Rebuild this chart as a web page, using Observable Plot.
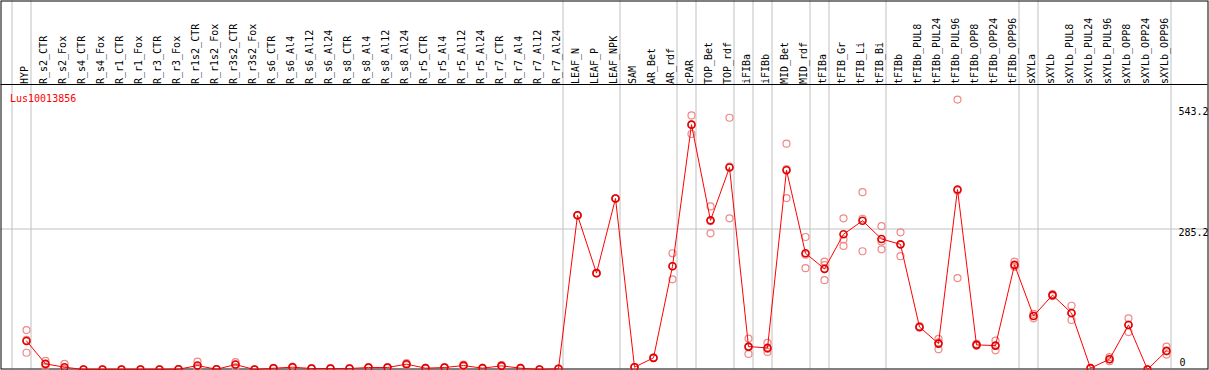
<!DOCTYPE html>
<html><head><meta charset="utf-8">
<script src="https://cdn.jsdelivr.net/npm/d3@7"></script>
<script src="https://cdn.jsdelivr.net/npm/@observablehq/plot@0.6"></script>
<style>body{margin:0;background:#fff} svg{display:block}</style>
</head><body><div id="chart"></div>
<script>
const geneName = "Lus10013856";
const categories = ["HYP","R_s2_CTR","R_s2_Fox","R_s4_CTR","R_s4_Fox","R_r1_CTR","R_r1_Fox","R_r3_CTR","R_r3_Fox","R_r1s2_CTR","R_r1s2_Fox","R_r3s2_CTR","R_r3s2_Fox","R_s6_CTR","R_s6_Al4","R_s6_Al12","R_s6_Al24","R_s8_CTR","R_s8_Al4","R_s8_Al12","R_s8_Al24","R_r5_CTR","R_r5_Al4","R_r5_Al12","R_r5_Al24","R_r7_CTR","R_r7_Al4","R_r7_Al12","R_r7_Al24","LEAF_N","LEAF_P","LEAF_NPK","SAM","AR_Bet","AR_rdf","cPAR","TOP_Bet","TOP_rdf","iFIBa","iFIBb","MID_Bet","MID_rdf","tFIBa","tFIB_Gr","tFIB_Li","tFIB_Bi","tFIBb","tFIBb_PUL8","tFIBb_PUL24","tFIBb_PUL96","tFIBb_OPP8","tFIBb_OPP24","tFIBb_OPP96","sXYLa","sXYLb","sXYLb_PUL8","sXYLb_PUL24","sXYLb_PUL96","sXYLb_OPP8","sXYLb_OPP24","sXYLb_OPP96"];
const means = [58,11.5,4.7,0,0,0,0,0,0.5,8,0.5,10,0,2.6,4.7,2,2,2,4,4,10.8,2.7,4,8,2.7,7.4,2.7,0,1.4,313,195.6,347,4.7,23.6,209.7,497,302.8,410,46.5,43.8,404.5,236,204.3,274.4,302,265,254,86.3,52.6,365.4,50,48.5,212.4,108.6,151,114.6,2.7,20.9,90.4,0,37.8];
const rep1 = [80,17.6,11.5,0,0,0,0,0,1,16,1,15,0,3.5,6,3,3,3,5,5,13,3.5,5,10,3.5,9,3.5,0,2,313,195.6,347,4.7,23.6,236,515.8,331,511,62.7,54,458.5,269,219,306.8,360,291,278.5,88,62,548,52,58.6,219,113,153,129.4,3,25,103.8,0,46.5];
const rep2 = [60,11,1.5,0,0,0,0,0,0.5,4,0.5,10,0,2.5,4.5,2,2,2,4,4,10.5,2.6,4,8,2.6,7.4,2.6,0,1.4,313,195.6,347,4.7,23.6,210,497,301,412,45,41.7,407,233,212,264,306,260,254,86,55,363,50,48,209,109,151,114,2.7,21,91,0,37];
const rep3 = [34,6,1,0,0,0,0,0,0,4,0,5,0,1.8,3.6,1,1,1,3,3,9,2,3,6,2,6,2,0,0.8,313,195.6,347,4.7,23.6,183,478,276.5,306.8,31.7,35.7,348,205.7,181.4,250.8,240,244,230,85,41,185.5,48,39,209,103.8,149,100.5,2.4,17,76,0,30.3];
const groupEnds = ["HYP","R_r7_Al24","LEAF_NPK","AR_rdf","cPAR","TOP_rdf","iFIBa","iFIBb","MID_rdf","tFIBa","tFIB_Bi","tFIBb_OPP96","sXYLa","sXYLb_OPP96"];
const gridValues = [285.2];
const upperTicks = [285.2];
const topTick = [543.2];
const zeroTick = [0];

const meanData = categories.map((c, i) => ({cat: c, value: means[i]}));
const repData = categories.flatMap((c, i) => [rep1[i], rep2[i], rep3[i]].map(v => ({cat: c, value: v})));
const lastCat = categories[categories.length - 1];

const headerLine = (index, scales, values, dims) => {
  const l = d3.create("svg:line")
    .attr("x1", dims.marginLeft).attr("x2", dims.width - dims.marginRight)
    .attr("y1", 84.5).attr("y2", 84.5)
    .attr("stroke", "black");
  return l.node();
};

const chart = Plot.plot({
  width: 1209, height: 370,
  marginTop: 0.5, marginLeft: 0.5, marginRight: 1.5, marginBottom: 1.5,
  style: {fontFamily: "DejaVu Sans Mono", fontSize: "10px", background: "#fff", color: "black"},
  x: {type: "point", domain: categories, range: [26, 1166], padding: 0, axis: null},
  y: {domain: [0, 543.2], range: [369, 101.4], axis: null},
  marks: [
    Plot.ruleY(gridValues, {stroke: "#c0c0c0", strokeWidth: 1}),
    Plot.ruleX(groupEnds, {x: d => d, dx: 4.5, stroke: "#c0c0c0", strokeWidth: 1}),
    Plot.ruleX([categories[0]], {x: d => d, dx: -14.5, stroke: "#c0c0c0", strokeWidth: 1}),
    Plot.frame({stroke: "black", strokeWidth: 1}),
    headerLine,
    Plot.text(categories, {x: d => d, frameAnchor: "top", dy: 83, dx: -1.5, rotate: -90, textAnchor: "start", lineAnchor: "middle", fill: "black"}),
    Plot.text([geneName], {frameAnchor: "top-left", dx: 9, dy: 93.5, textAnchor: "start", lineAnchor: "top", fill: "red"}),
    Plot.text(upperTicks, {x: () => lastCat, y: d => d, dx: 12, textAnchor: "start", lineAnchor: "top", fill: "black", text: d => String(d)}),
    Plot.text(topTick, {x: () => lastCat, y: d => d, dx: 12, dy: 6, textAnchor: "start", lineAnchor: "top", fill: "black", text: d => String(d)}),
    Plot.text(zeroTick, {x: () => lastCat, y: d => d, dx: 13, dy: -4, textAnchor: "start", lineAnchor: "bottom", fill: "black", text: d => String(d)}),
    Plot.dot(repData, {x: "cat", y: "value", r: 3.5, stroke: "#f08888", strokeWidth: 1.2, fill: "none"}),
    Plot.line(meanData, {x: "cat", y: "value", stroke: "#ff0000", strokeWidth: 1}),
    Plot.dot(meanData, {x: "cat", y: "value", r: 3.5, stroke: "#e00000", strokeWidth: 1.6, fill: "none"})
  ]
});
document.getElementById("chart").appendChild(chart);
</script>
</body></html>
